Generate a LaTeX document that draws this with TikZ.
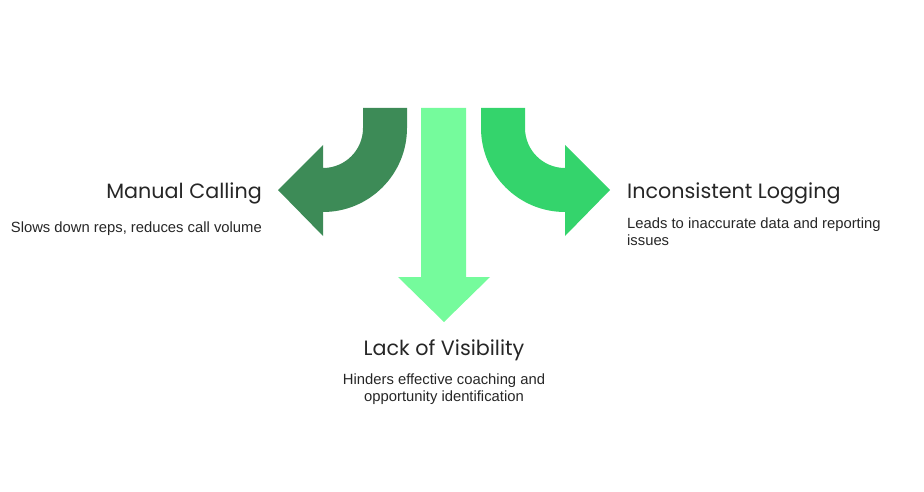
\documentclass[tikz,border=0pt]{standalone}
\usepackage{fontspec}
\setmainfont{Liberation Sans}
\newfontfamily\titlefont{Poppins}
\definecolor{cdark}{HTML}{3D8B57}
\definecolor{cmid}{HTML}{34D46C}
\definecolor{clight}{HTML}{75FB9C}
\begin{document}
\begin{tikzpicture}[x=1pt,y=-1pt,
  ttl/.style={font=\titlefont\fontsize{20.7}{24}\selectfont,text=black!85,inner sep=0pt},
  body/.style={font=\fontsize{14.8}{17}\selectfont,text=black!85,inner sep=0pt}]
\useasboundingbox (0,0) rectangle (924,492);
% left arrow
\fill[cdark] (363,108) -- (407,108) -- (407,128) arc[start angle=0,end angle=90,radius=84]
  -- (323,212) -- (323,236) -- (278,190) -- (323,145) -- (323,168)
  arc[start angle=90,end angle=0,radius=40] -- cycle;
% right arrow
\fill[cmid] (525,108) -- (481,108) -- (481,128) arc[start angle=180,end angle=90,radius=84]
  -- (565,212) -- (565,236) -- (610,190) -- (565,145) -- (565,168)
  arc[start angle=90,end angle=180,radius=40] -- cycle;
% middle arrow
\fill[clight] (421,108) -- (466,108) -- (466,277) -- (490,277) -- (444,322) -- (398,277) -- (421,277) -- cycle;
\node[ttl,anchor=base east] (t1) at (262,198) {Manual Calling};
\node[body,anchor=base east] (b1) at (262,233) {Slows down reps, reduces call volume};
\node[ttl,anchor=base west] (t2) at (627,198) {Inconsistent Logging};
\node[body,anchor=north west,align=left] (b2) at (627,218) {Leads to inaccurate data and reporting\\issues};
\node[ttl,anchor=base] (t3) at (444,355) {Lack of Visibility};
\node[body,anchor=north,align=center] (b3) at (444,374) {Hinders effective coaching and\\opportunity identification};
\end{tikzpicture}
\end{document}
